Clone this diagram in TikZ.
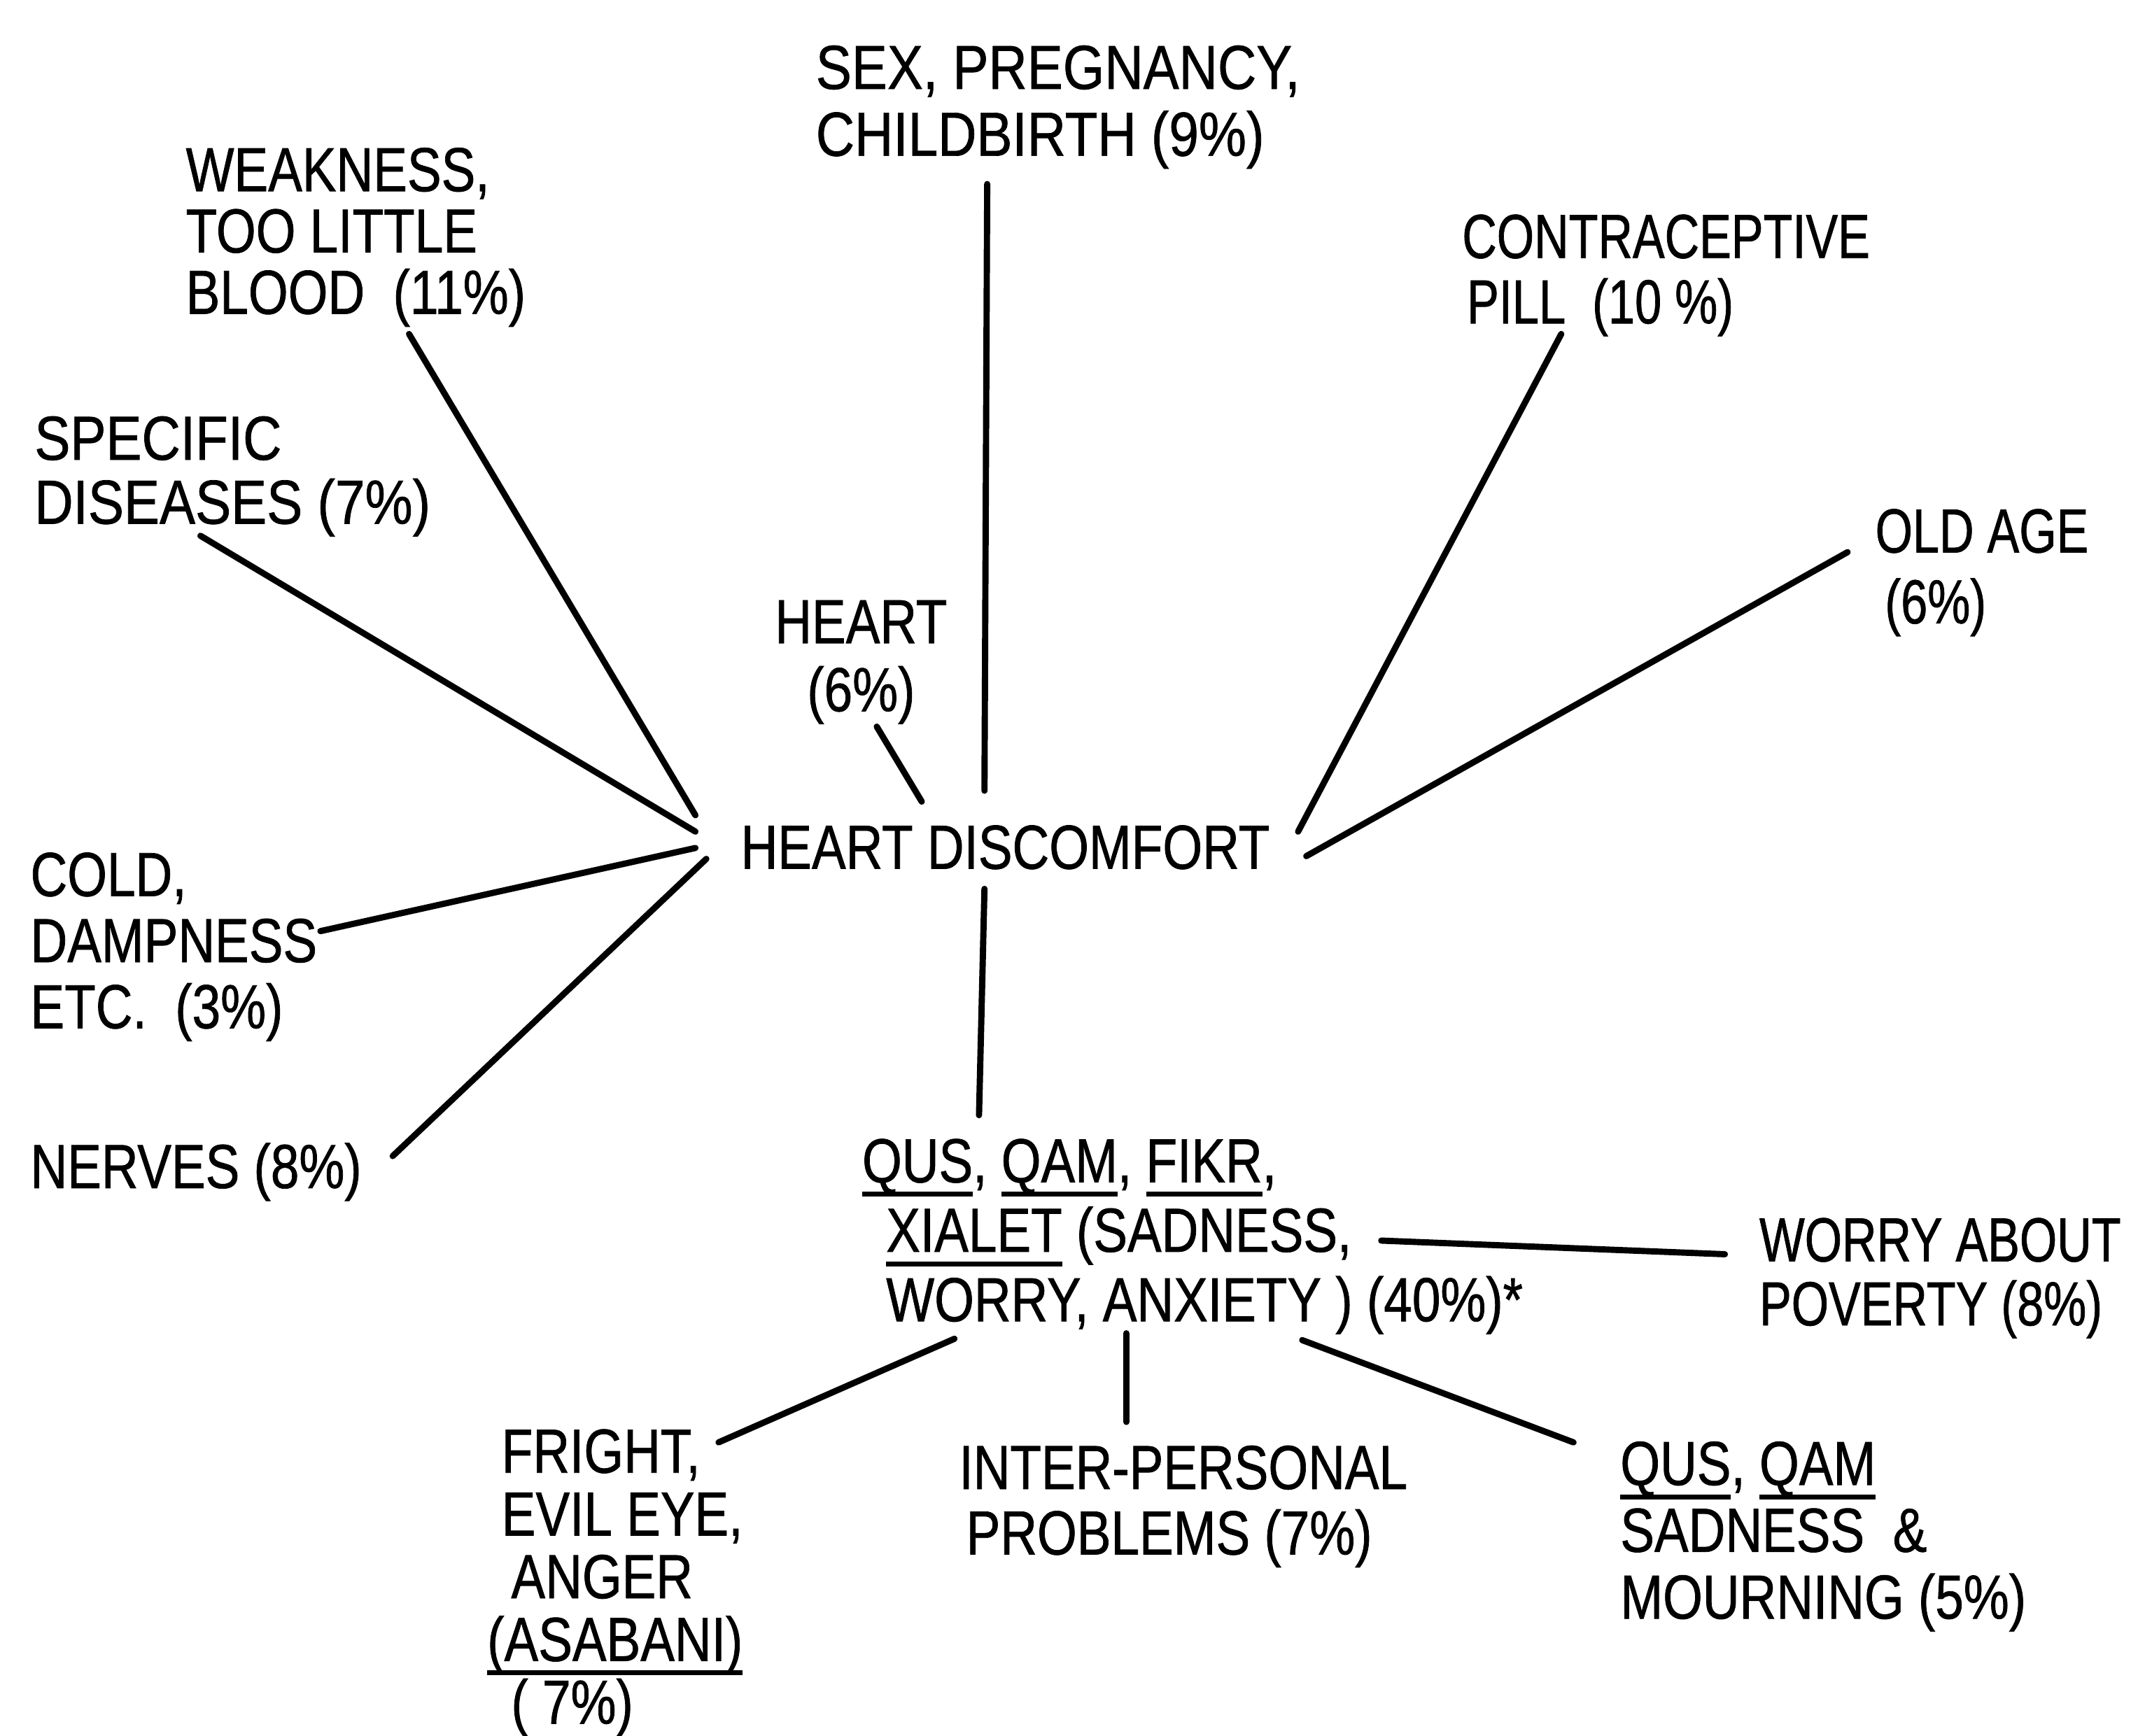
\documentclass[tikz,border=0pt]{standalone}
\usepackage{fontspec}
\setmainfont{Liberation Sans}[FakeStretch=0.82,FakeBold=0.8]
\newcommand\myul[1]{\setbox0\hbox{#1}\rlap{\rule[-6pt]{\wd0}{2pt}}\box0\relax}
\newcommand\fs[1]{\fontsize{26}{#1}\selectfont}
\newcommand\narrow{\addfontfeature{FakeStretch=0.77}}
\newcommand\wide{\addfontfeature{FakeStretch=0.86}}
\begin{document}
\begin{tikzpicture}[x=0.02cm,y=-0.02cm,
  lbl/.style={inner sep=0pt, anchor=north west, align=left, font=\fs{27}},
  conn/.style={line width=2.6pt, line cap=round}]
\useasboundingbox (0,0) rectangle (1568,1273);
% labels
\node[lbl, font=\fs{27.9}\wide] (sex) at (598,33) {SEX, PREGNANCY,\\CHILDBIRTH (9\%)};
\node[lbl, font=\fs{25.6}] (weak) at (136,108) {WEAKNESS,\\TOO LITTLE\\BLOOD~~(11\%)};
\node[lbl, font=\fs{27.3}\narrow] (contra) at (1072,157) {CONTRACEPTIVE\\\hspace*{2pt}PILL~~(10~\%)};
\node[lbl, font=\fs{26.7}\wide] (spec) at (25,305) {SPECIFIC\\DISEASES (7\%)};
\node[lbl, font=\fs{29.6}\narrow] (old) at (1375,373) {OLD AGE\\\hspace*{4pt}(6\%)};
\node[lbl, align=center, font=\fs{28.4}] (heart) at (568,440) {HEART\\(6\%)};
\node[lbl] (hd) at (543,605) {HEART DISCOMFORT};
\node[lbl, font=\fs{27.6}] (cold) at (22,625) {COLD,\\DAMPNESS\\ETC.~~(3\%)};
\node[lbl] (nerves) at (22,838) {NERVES (8\%)};
\node[lbl, font=\fs{29}] (qus) at (632,835) {\myul{QUS}, \myul{QAM}, \myul{FIKR},\\\hspace*{10pt}\myul{XIALET} (SADNESS,\\\hspace*{10pt}WORRY, ANXIETY ) (40\%)*};
\node[lbl, font=\fs{26.7}\narrow] (worry) at (1290,893) {WORRY~ABOUT\\POVERTY (8\%)};
\node[lbl, font=\fs{26.2}] (fright) at (357,1048) {\hspace*{6pt}FRIGHT,\\\hspace*{6pt}EVIL EYE,\\\hspace*{10pt}ANGER\\\myul{(ASABANI)}\\\hspace*{10pt}( 7\%)};
\node[lbl, font=\fs{27.3}] (inter) at (703,1060) {INTER-PERSONAL\\\hspace*{3pt}PROBLEMS (7\%)};
\node[lbl, font=\fs{27.9}] (qusb) at (1188,1057) {\myul{QUS}, \myul{QAM}\\SADNESS~~\&\\MOURNING (5\%)};
% connector end points
\coordinate (sexA) at (724,135);   \coordinate (sexB) at (722,580);
\coordinate (weakA) at (300,245);  \coordinate (weakB) at (510,598);
\coordinate (specA) at (147,393);  \coordinate (specB) at (510,610);
\coordinate (coldA) at (235,683);  \coordinate (coldB) at (510,622);
\coordinate (nervA) at (288,848);  \coordinate (nervB) at (518,630);
\coordinate (heartA) at (643,533); \coordinate (heartB) at (676,588);
\coordinate (contA) at (1145,245); \coordinate (contB) at (952,610);
\coordinate (oldA) at (1355,405);  \coordinate (oldB) at (958,628);
\coordinate (hdA) at (722,652);    \coordinate (hdB) at (718,818);
\coordinate (wA) at (1013,910);    \coordinate (wB) at (1265,920);
\coordinate (frA) at (700,982);    \coordinate (frB) at (527,1058);
\coordinate (inA) at (826,978);    \coordinate (inB) at (826,1043);
\coordinate (qbA) at (955,983);    \coordinate (qbB) at (1154,1058);
% connectors
\draw[conn] (sexA) -- (sexB);
\draw[conn] (weakA) -- (weakB);
\draw[conn] (specA) -- (specB);
\draw[conn] (coldA) -- (coldB);
\draw[conn] (nervA) -- (nervB);
\draw[conn] (heartA) -- (heartB);
\draw[conn] (contA) -- (contB);
\draw[conn] (oldA) -- (oldB);
\draw[conn] (hdA) -- (hdB);
\draw[conn] (wA) -- (wB);
\draw[conn] (frA) -- (frB);
\draw[conn] (inA) -- (inB);
\draw[conn] (qbA) -- (qbB);
\end{tikzpicture}
\end{document}
